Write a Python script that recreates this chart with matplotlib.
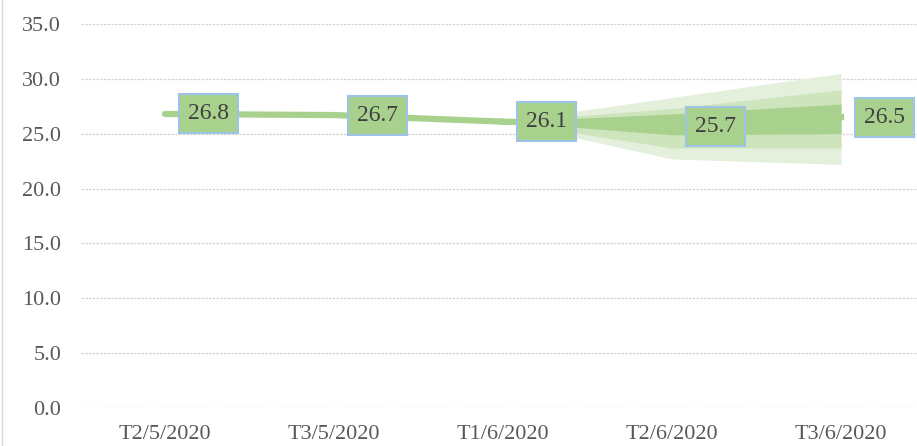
import matplotlib
matplotlib.use("Agg")
import matplotlib.pyplot as plt
from matplotlib.lines import Line2D

# Data
categories = ["T2/5/2020", "T3/5/2020", "T1/6/2020", "T2/6/2020", "T3/6/2020"]
actual = [26.8, 26.7, 26.1]
forecast = [26.1, 25.7, 26.5]
labels = [26.8, 26.7, 26.1, 25.7, 26.5]
outer_low = [26.1, 22.7, 22.2]
outer_high = [26.1, 28.3, 30.5]
mid_low = [26.1, 23.7, 23.7]
mid_high = [26.1, 27.3, 29.0]
inner_low = [26.1, 24.9, 25.0]
inner_high = [26.1, 26.8, 27.7]
yticks = [0, 5, 10, 15, 20, 25, 30, 35]

plt.rcParams['font.family'] = ['Liberation Serif', 'DejaVu Serif']

fig = plt.figure(figsize=(9.17, 4.46), dpi=100)
ax = fig.add_axes([0.0878, 0.0852, 0.9215, 0.861])

x_act = list(range(len(actual)))
x_fc = list(range(len(actual) - 1, len(categories)))

green = "#A9D18E"
# confidence bands
ax.fill_between(x_fc, outer_low, outer_high, color="#E4F0DC", lw=0, zorder=2)
ax.fill_between(x_fc, mid_low, mid_high, color="#CDE4BD", lw=0, zorder=3)
ax.fill_between(x_fc, inner_low, inner_high, color=green, lw=0, zorder=4)

ax.plot(x_act, actual, color=green, lw=4.5, solid_capstyle="round", zorder=5)
ax.plot(x_fc, forecast, color=green, lw=4.5, zorder=5)

# data labels
for i, v in enumerate(labels):
    ax.annotate(f"{v:.1f}", xy=(i, v), xytext=(31, 0), textcoords="offset points",
                ha="center", va="center", fontsize=17, color="#404040", zorder=6,
                bbox=dict(boxstyle="square,pad=0.38", fc=green, ec="#9DC3E6", lw=1.5))

ax.set_xlim(-0.5, 4.5)
ax.set_ylim(0, 35)
ax.set_yticks(yticks)
ax.set_yticklabels([f"{t:.1f}" for t in yticks])
ax.set_xticks(range(len(categories)))
ax.set_xticklabels(categories)
ax.tick_params(axis="both", length=0, labelsize=16, colors="#595959")
ax.tick_params(axis="y", pad=14)
ax.tick_params(axis="x", pad=12)

ax.grid(axis="y", color="#D4D4D4", lw=0.9, ls=(0, (2, 1)), zorder=0)
ax.set_axisbelow(True)
for s in ax.spines.values():
    s.set_visible(False)

# thin chart border at the left edge
fig.add_artist(Line2D([0.002, 0.002], [0, 1], transform=fig.transFigure, color="#D9D9D9", lw=1))

fig.savefig("out.png", dpi=100)
